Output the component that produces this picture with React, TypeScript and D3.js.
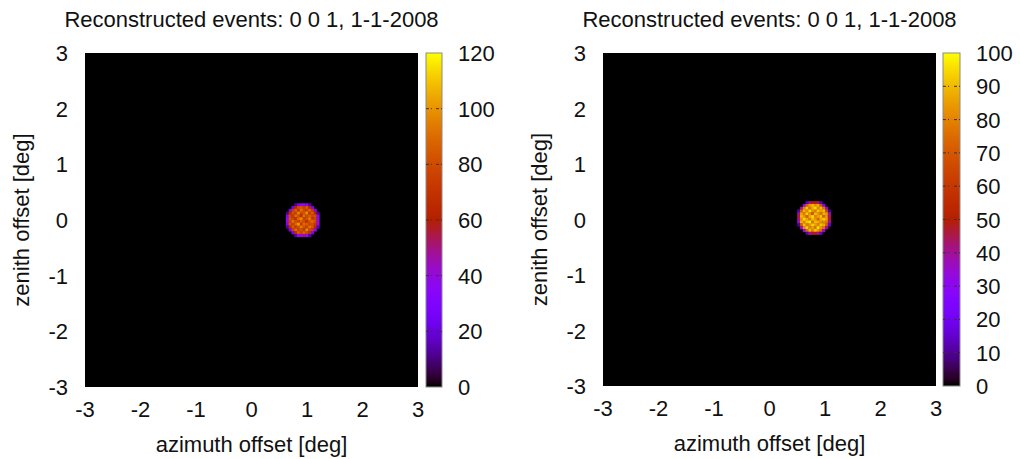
import React from "react";
import * as d3 from "d3";

const TITLE = "Reconstructed events: 0 0 1, 1-1-2008";
const X_LABEL = "azimuth offset [deg]";
const Y_LABEL = "zenith offset [deg]";
const AXIS_TICKS = [-3, -2, -1, 0, 1, 2, 3];
const LEFT_CB_TICKS = [0, 20, 40, 60, 80, 100, 120];
const RIGHT_CB_TICKS = [0, 10, 20, 30, 40, 50, 60, 70, 80, 90, 100];
const BIN = 0.05;

// left panel counts: rows top (high zenith) to bottom, 12x12 bins of 0.05 deg
const LEFT_ORIGIN = { x: 0.62, yTop: 0.3 };
const LEFT_COUNTS = [
  [0, 0, 0, 12, 32, 40, 42, 36, 14, 0, 0, 0],
  [0, 0, 28, 64, 80, 84, 76, 86, 66, 28, 0, 0],
  [0, 32, 74, 86, 70, 92, 80, 76, 88, 72, 34, 0],
  [10, 64, 82, 76, 96, 78, 84, 100, 72, 86, 62, 12],
  [34, 80, 72, 90, 82, 68, 92, 80, 86, 78, 82, 36],
  [40, 84, 78, 70, 88, 98, 76, 82, 94, 72, 78, 40],
  [40, 76, 92, 82, 74, 86, 80, 68, 84, 90, 80, 42],
  [32, 82, 76, 88, 102, 72, 90, 86, 78, 80, 72, 38],
  [12, 64, 86, 74, 80, 94, 82, 76, 92, 84, 64, 16],
  [0, 34, 76, 90, 78, 82, 72, 98, 80, 74, 36, 0],
  [0, 0, 32, 68, 86, 76, 88, 80, 70, 34, 0, 0],
  [0, 0, 0, 14, 38, 44, 46, 40, 16, 0, 0, 0],
];

const RIGHT_ORIGIN = { x: 0.5, yTop: 0.33 };
const RIGHT_COUNTS = [
  [0, 0, 0, 14, 40, 48, 50, 42, 12, 0, 0, 0],
  [0, 0, 32, 72, 85, 90, 82, 88, 70, 28, 0, 0],
  [0, 38, 80, 92, 76, 88, 95, 80, 90, 78, 35, 0],
  [12, 72, 88, 80, 96, 84, 78, 92, 86, 90, 68, 10],
  [40, 86, 78, 94, 82, 70, 90, 84, 76, 88, 85, 38],
  [45, 90, 84, 72, 88, 96, 80, 86, 92, 74, 84, 44],
  [42, 82, 94, 86, 78, 90, 84, 72, 88, 94, 86, 46],
  [35, 88, 80, 92, 98, 76, 90, 88, 82, 80, 78, 40],
  [10, 70, 90, 78, 84, 94, 86, 80, 92, 88, 72, 15],
  [0, 36, 82, 94, 80, 86, 76, 96, 84, 78, 40, 0],
  [0, 0, 34, 74, 90, 80, 92, 84, 74, 36, 0, 0],
  [0, 0, 0, 12, 40, 46, 48, 42, 15, 0, 0, 0],
];

// gnuplot default pm3d palette (rgbformulae 7,5,15)
function palette(t: number): string {
  const x = Math.max(0, Math.min(1, t));
  const r = Math.sqrt(x);
  const g = x * x * x;
  const b = Math.max(0, Math.sin(2 * Math.PI * x));
  return d3.rgb(r * 255, g * 255, b * 255).formatHex();
}

const FONT = "Liberation Sans, Arial, Helvetica, sans-serif";
const FS = 22;

type PanelProps = {
  id: string;
  px0: number; px1: number; py0: number; py1: number;
  cbx0: number; cbx1: number;
  cbMax: number; cbTicks: number[];
  counts: number[][]; origin: { x: number; yTop: number };
};

function Panel(p: PanelProps) {
  const xs = d3.scaleLinear().domain([-3, 3]).range([p.px0, p.px1]);
  const ys = d3.scaleLinear().domain([-3, 3]).range([p.py1, p.py0]);
  const cs = d3.scaleLinear().domain([0, p.cbMax]).range([p.py1, p.py0]);
  const stops = d3.range(0, 1.0001, 0.02);
  const cells: React.ReactNode[] = [];
  p.counts.forEach((row, ri) => {
    row.forEach((v, ci) => {
      if (v <= 0) return;
      const x0 = p.origin.x + ci * BIN;
      const yT = p.origin.yTop - ri * BIN;
      cells.push(
        <rect key={`${ri}-${ci}`} x={xs(x0)} y={ys(yT)} width={xs(x0 + BIN) - xs(x0) + 0.4}
          height={ys(yT - BIN) - ys(yT) + 0.4} fill={palette(v / p.cbMax)} />
      );
    });
  });
  const cx = (p.px0 + p.px1) / 2;
  return (
    <g fontFamily={FONT} fill="#111">
      <defs>
        <linearGradient id={`grad-${p.id}`} x1="0" y1="1" x2="0" y2="0">
          {stops.map((s) => (
            <stop key={s} offset={s} stopColor={palette(s)} />
          ))}
        </linearGradient>
        <filter id={`blur-${p.id}`} x="-50%" y="-50%" width="200%" height="200%">
          <feGaussianBlur stdDeviation="0.7" />
        </filter>
      </defs>
      <text x={cx} y={27} textAnchor="middle" fontSize={FS}>{TITLE}</text>
      <rect x={p.px0} y={p.py0} width={p.px1 - p.px0} height={p.py1 - p.py0} fill="#000" />
      <g filter={`url(#blur-${p.id})`}>{cells}</g>
      {AXIS_TICKS.map((t) => (
        <text key={`x${t}`} x={xs(t)} y={p.py1 + 30} textAnchor="middle" fontSize={FS}>{t}</text>
      ))}
      {AXIS_TICKS.map((t) => (
        <text key={`y${t}`} x={p.px0 - 17} y={ys(t) + 8} textAnchor="end" fontSize={FS}>{t}</text>
      ))}
      <text x={cx} y={p.py1 + 65} textAnchor="middle" fontSize={FS}>{X_LABEL}</text>
      <text transform={`translate(${p.px0 - 56},${(p.py0 + p.py1) / 2}) rotate(-90)`} textAnchor="middle" fontSize={FS}>{Y_LABEL}</text>
      <rect x={p.cbx0} y={p.py0} width={p.cbx1 - p.cbx0} height={p.py1 - p.py0}
        fill={`url(#grad-${p.id})`} stroke="#8a8a8a" strokeWidth={1} />
      {p.cbTicks.slice(1, -1).map((t) => (
        <g key={`ct${t}`} stroke="#333" strokeWidth={1} strokeDasharray="3,2">
          <line x1={p.cbx0} x2={p.cbx0 + 6} y1={cs(t)} y2={cs(t)} />
          <line x1={p.cbx1 - 6} x2={p.cbx1} y1={cs(t)} y2={cs(t)} />
        </g>
      ))}
      {p.cbTicks.map((t) => (
        <text key={`cl${t}`} x={p.cbx1 + 16} y={cs(t) + 8} fontSize={FS}>{t}</text>
      ))}
    </g>
  );
}

export default function App() {
  return (
    <svg width={1020} height={459} style={{ position: "absolute", left: 0, top: 0, background: "#fff" }}>
      <rect width={1020} height={459} fill="#fff" />
      <Panel id="l" px0={85} px1={418} py0={53} py1={387} cbx0={426} cbx1={442}
        cbMax={120} cbTicks={LEFT_CB_TICKS} counts={LEFT_COUNTS} origin={LEFT_ORIGIN} />
      <Panel id="r" px0={603} px1={936} py0={53} py1={386} cbx0={943} cbx1={960}
        cbMax={100} cbTicks={RIGHT_CB_TICKS} counts={RIGHT_COUNTS} origin={RIGHT_ORIGIN} />
    </svg>
  );
}
